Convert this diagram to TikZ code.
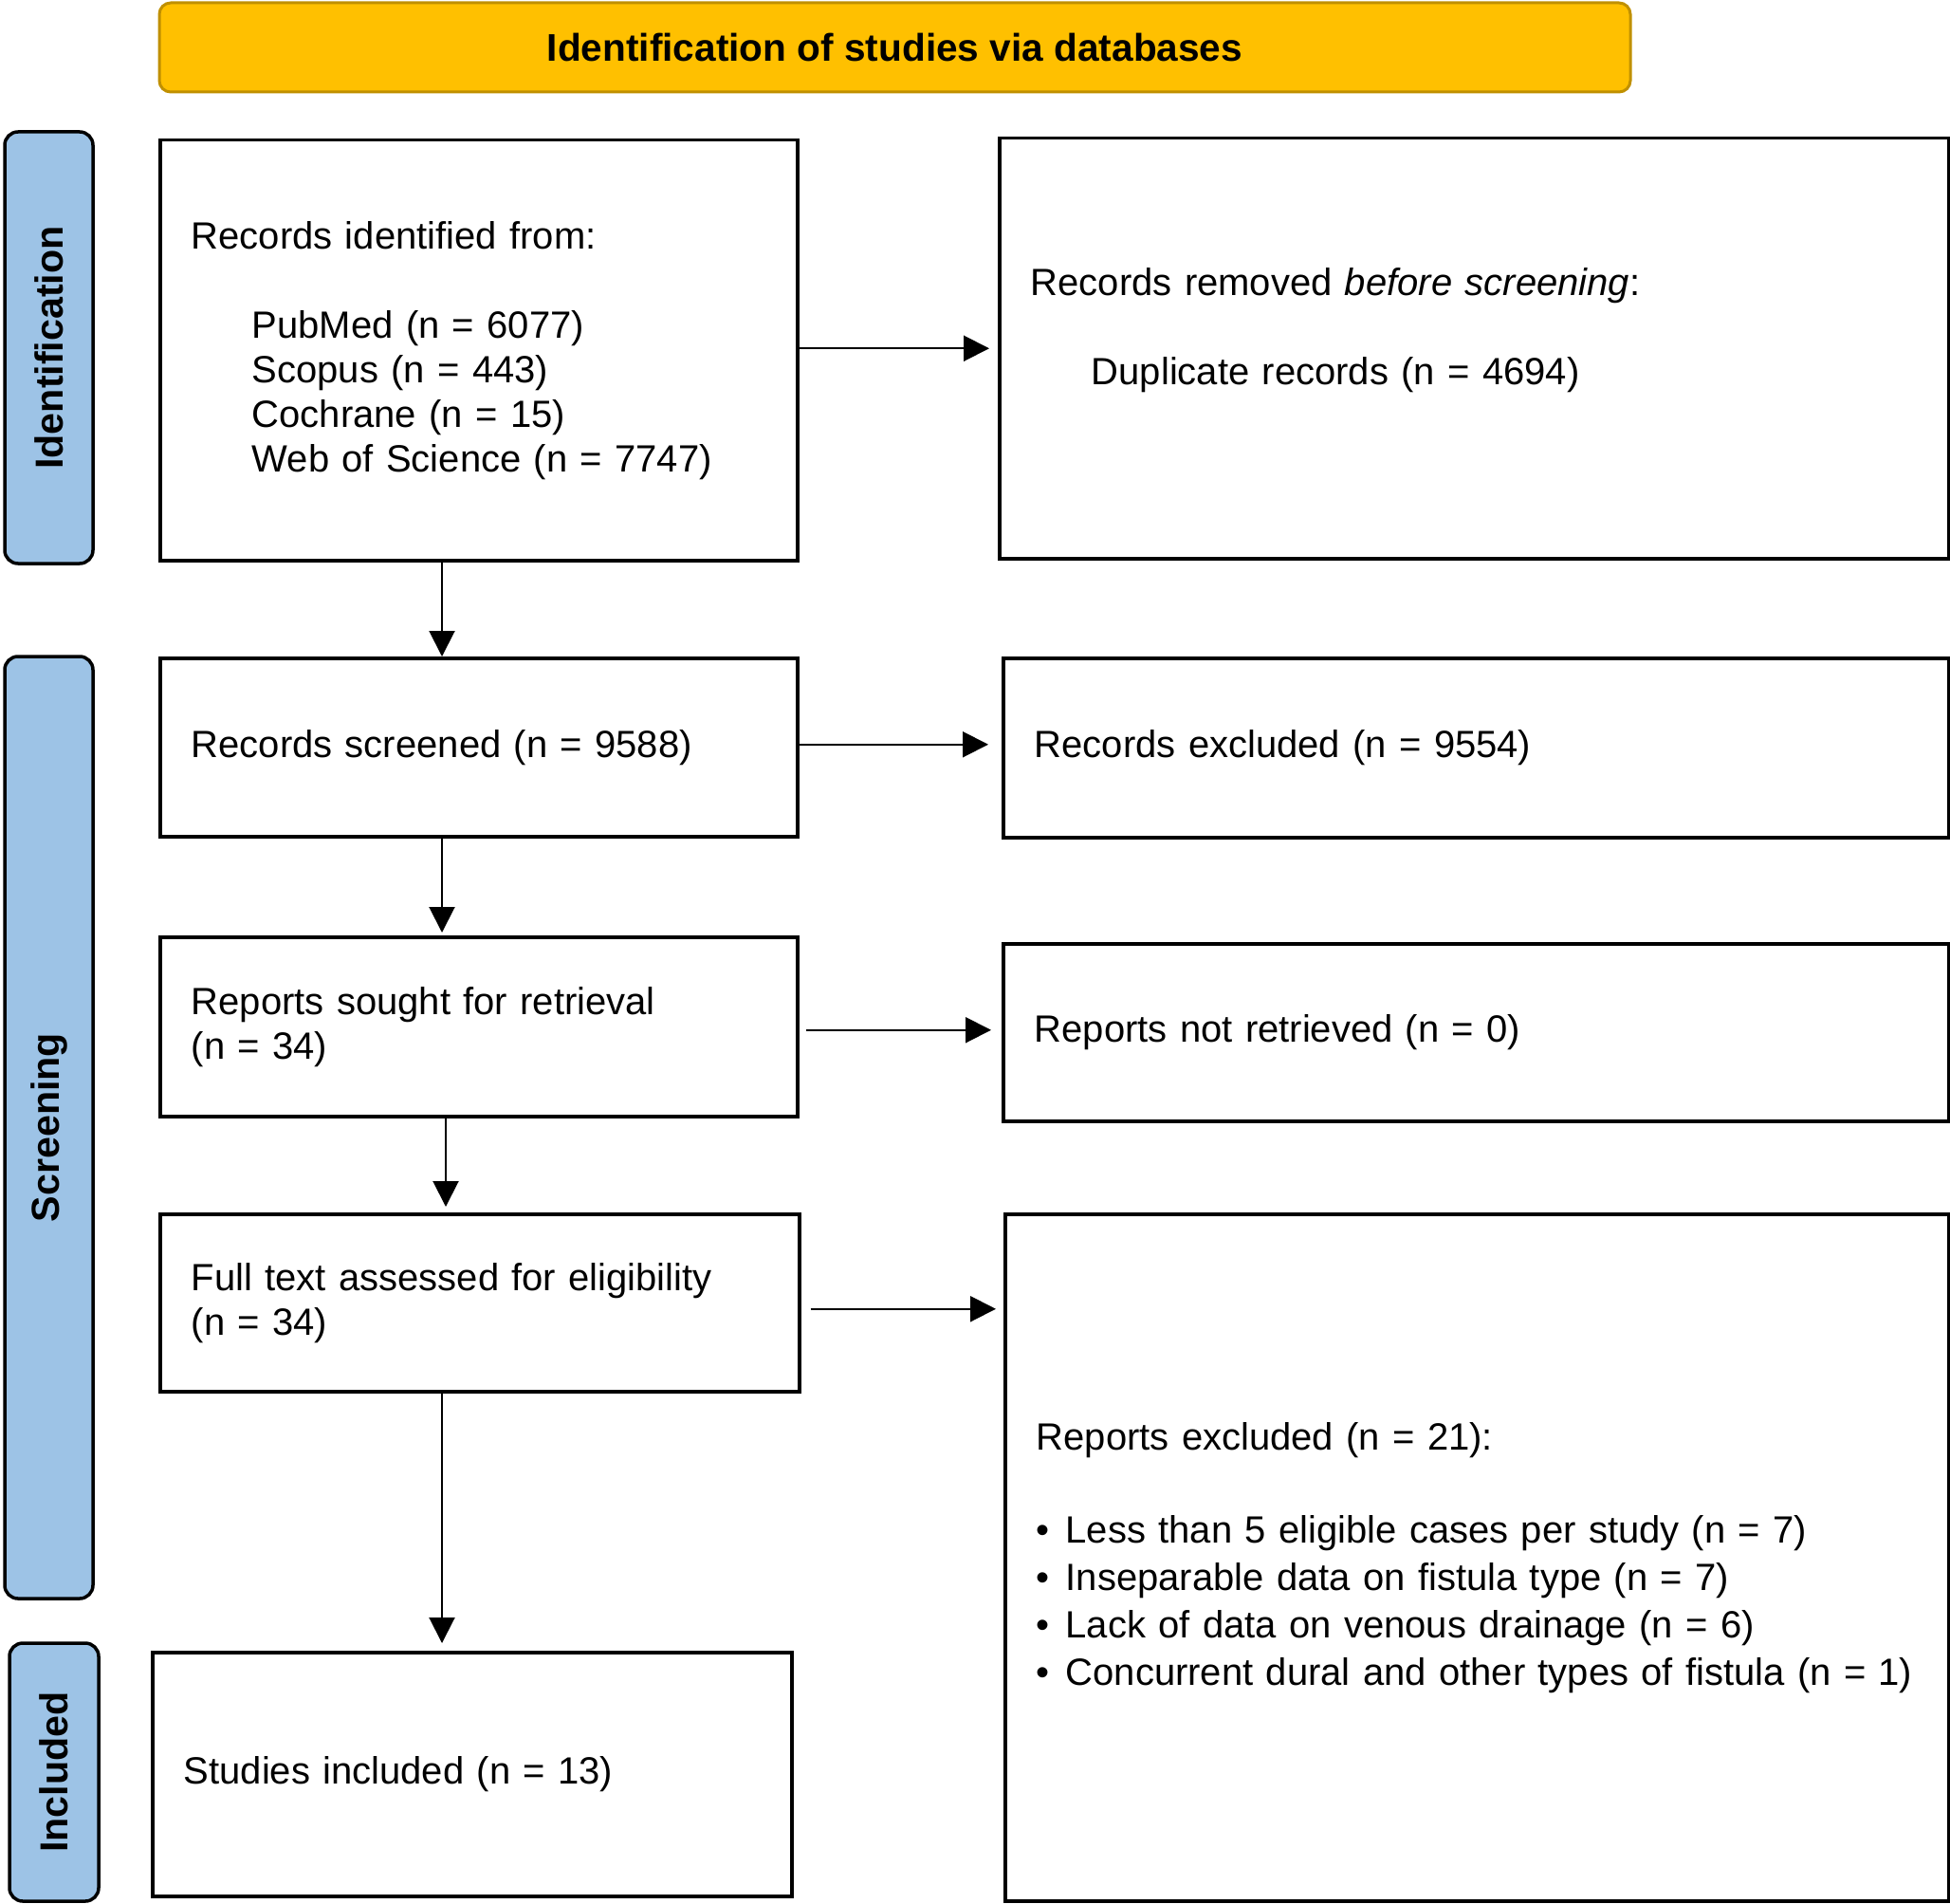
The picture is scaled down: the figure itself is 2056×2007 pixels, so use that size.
\documentclass[tikz,border=0pt]{standalone}
\usepackage{fontspec}
\setmainfont{Liberation Sans}
\usetikzlibrary{arrows.meta,calc}
\definecolor{bannerfill}{HTML}{FFC000}
\definecolor{bannerline}{HTML}{C09000}
\definecolor{sidefill}{HTML}{9DC3E6}
\newcommand{\bodyfnt}{\fontsize{40}{47}\selectfont}
\newcommand{\labfnt}{\fontsize{41.2}{48}\selectfont\bfseries}
\newcommand{\banfnt}{\fontsize{40.6}{48}\selectfont\bfseries}
\newcommand{\blt}{\makebox[31pt][l]{•}}
\begin{document}
\begin{tikzpicture}[x=1pt,y=-1pt,
  box/.style={draw, line width=3.5pt, rectangle, anchor=north west, inner xsep=33pt, inner ysep=0pt, align=left, font=\bodyfnt},
  side/.style={draw, line width=3.5pt, fill=sidefill, rounded corners=14pt, rotate=90, inner sep=0pt, font=\labfnt},
  banner/.style={draw=bannerline, line width=3pt, fill=bannerfill, rounded corners=12pt, inner sep=0pt, font=\banfnt},
  arr/.style={line width=2pt, -{Triangle[length=27pt,width=27pt]}}
]
\useasboundingbox (0,0) rectangle (2056,2007);

% banner
\node[banner, minimum width=1551pt, minimum height=94pt] (ban) at (943.5,50) {Identification of studies via databases};

% side labels
\node[side, minimum width=455pt, minimum height=93pt] (sid) at (51.5,366.5) {Identification};
\node[side, minimum width=993pt, minimum height=93pt] (ssc) at (51.5,1188.5) {Screening};
\node[side, minimum width=272pt, minimum height=94pt] (sin) at (57,1868) {Included};

% boxes
\node[box, minimum width=672pt, minimum height=443pt, text width=606pt] (A) at (167,146)
  {Records identified from:\\[47pt]
   \hspace*{64pt}PubMed (n = 6077)\\
   \hspace*{64pt}Scopus (n = 443)\\
   \hspace*{64pt}Cochrane (n = 15)\\
   \hspace*{64pt}Web of Science (n = 7747)};
\node[box, minimum width=1001pt, minimum height=443pt, text width=935pt] (B) at (1052,144)
  {Records removed \textit{before screening}:\\[47pt]
   \hspace*{64pt}Duplicate records (n = 4694)\\ \mbox{}};
\node[box, minimum width=672pt, minimum height=188pt, text width=606pt] (C) at (167,692)
  {Records screened (n = 9588)};
\node[box, minimum width=997pt, minimum height=189pt, text width=931pt] (D) at (1056,692)
  {Records excluded (n = 9554)};
\node[box, minimum width=672pt, minimum height=189pt, text width=606pt] (E) at (167,986)
  {Reports sought for retrieval\\(n = 34)};
\node[box, minimum width=997pt, minimum height=187pt, text width=931pt] (F) at (1056,993)
  {Reports not retrieved (n = 0)};
\node[box, minimum width=674pt, minimum height=187pt, text width=608pt] (G) at (167,1278)
  {Full text assessed for eligibility\\(n = 34)};
\node[box, minimum width=995pt, minimum height=724pt, text width=929pt, font=\fontsize{40}{50}\selectfont] (H) at (1058,1278)
  {Reports excluded (n = 21):\\[48pt]
   \mbox{\blt Less than 5 eligible cases per study (n = 7)}\\
   \mbox{\blt Inseparable data on fistula type (n = 7)}\\
   \mbox{\blt Lack of data on venous drainage (n = 6)}\\
   \mbox{\blt Concurrent dural and other types of fistula (n = 1)}};
\node[box, minimum width=674pt, minimum height=257pt, text width=608pt] (I) at (159,1740)
  {Studies included (n = 13)};

% vertical connectors
\coordinate (xa) at (466,0);
\coordinate (xb) at (470,0);
\draw[arr] (A.south -| xa) -- (C.north -| xa);
\draw[arr] (C.south -| xa) -- ($(E.north -| xa)+(0,-3)$);
\draw[arr] (E.south -| xb) -- ($(G.north -| xb)+(0,-6)$);
\draw[arr] (G.south -| xa) -- ($(I.north -| xa)+(0,-8)$);

% horizontal connectors
\coordinate (ab) at ($(A.east |- B.west)$);
\draw[arr] (ab) -- ($(B.west)+(-9,0)$);
\coordinate (cd) at ($(C.east)+(0,-3)$);
\draw[arr] (cd) -- ($(D.west |- cd)+(-14,0)$);
\coordinate (ef) at ($(E.east)+(7,3.5)$);
\draw[arr] (ef) -- ($(F.west |- ef)+(-11,0)$);
\coordinate (gh) at ($(G.east)+(10,6.5)$);
\draw[arr] (gh) -- ($(H.west |- gh)+(-8,0)$);
\end{tikzpicture}
\end{document}
